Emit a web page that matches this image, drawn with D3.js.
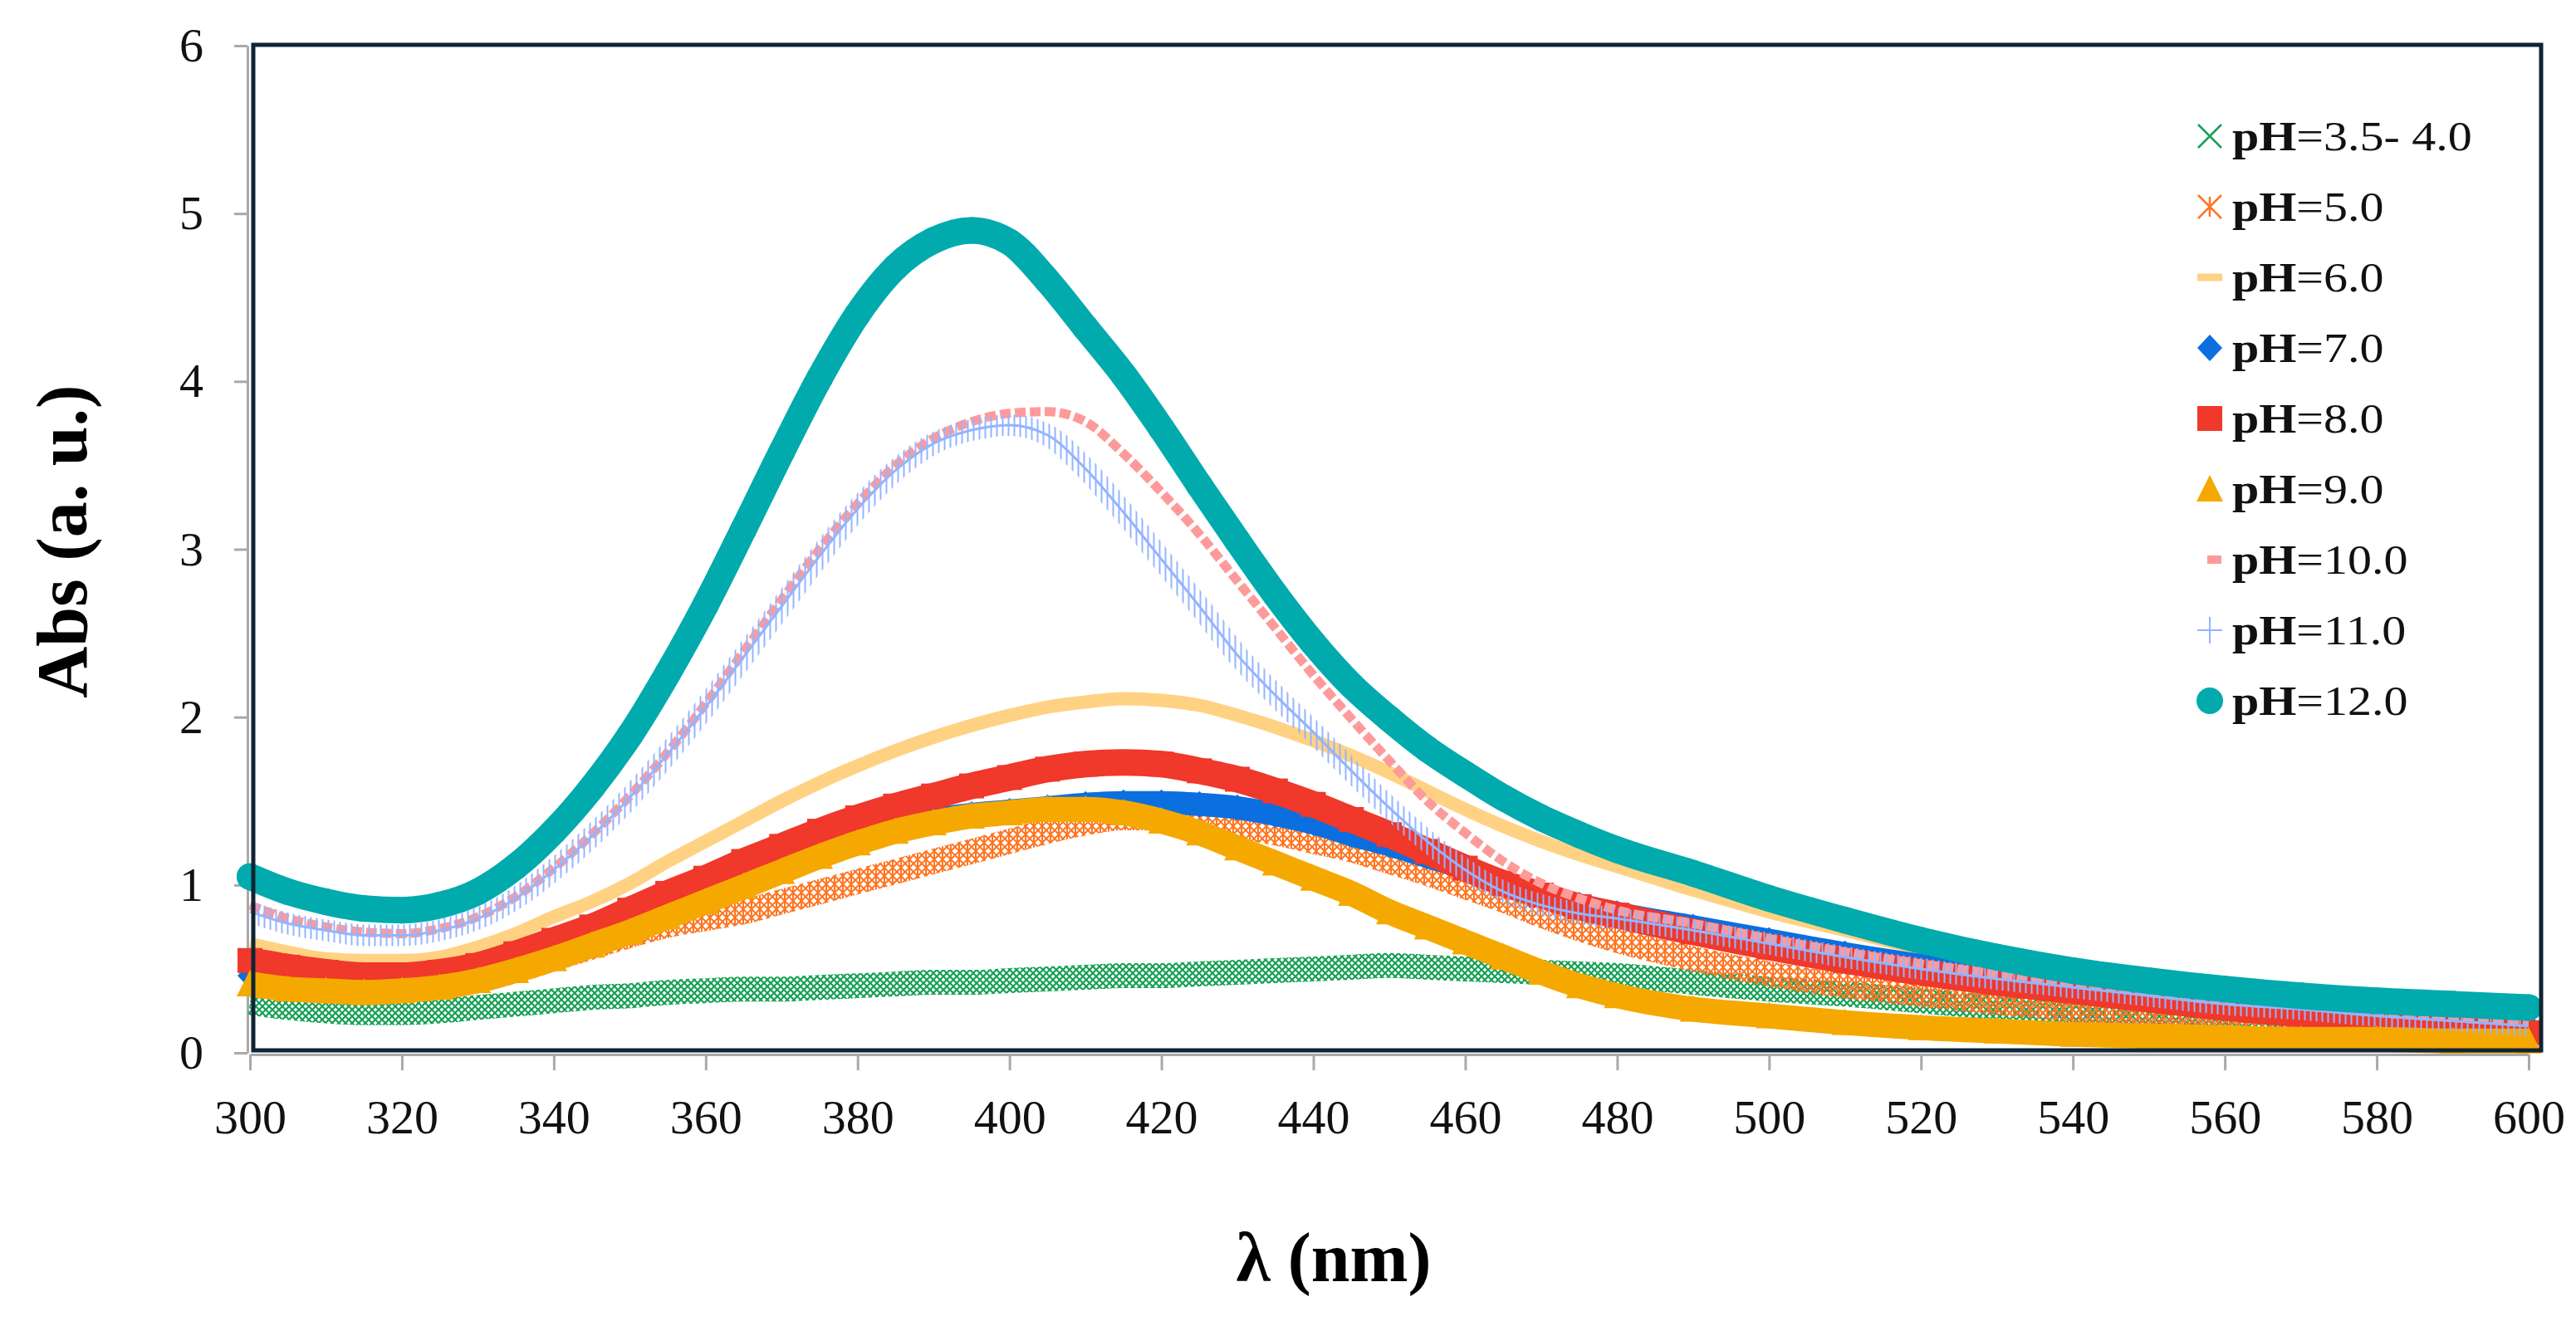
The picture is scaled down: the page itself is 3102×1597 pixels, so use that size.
<!DOCTYPE html>
<html>
<head>
<meta charset="utf-8">
<script src="https://cdn.jsdelivr.net/npm/d3@7"></script>
<style>
  body { margin: 0; background: #fff; }
</style>
</head>
<body>
<script>

// wavelength grid (nm)
var wavelengths = [300,305,310,315,320,325,330,335,340,345,
                   350,355,360,365,370,375,380,385,390,395,
                   400,405,410,415,420,425,430,435,440,445,
                   450,455,460,465,470,475,480,
                   490,500,510,520,530,540,550,560,570,580,590,600];

// absorbance
var absPH35 = [0.30,0.27,0.25,0.24,0.24,0.25,0.27,0.29,0.31,0.33,
               0.34,0.36,0.37,0.38,0.38,0.39,0.40,0.41,0.42,0.42,
               0.43,0.44,0.45,0.46,0.46,0.47,0.48,0.49,0.50,0.51,
               0.52,0.51,0.50,0.49,0.48,0.47,0.46,
               0.42,0.38,0.35,0.31,0.27,0.24,0.21,0.19,0.17,0.15,0.14,0.13];
var absPH5 = [0.41,0.38,0.37,0.36,0.37,0.39,0.43,0.49,0.56,0.63,
              0.70,0.76,0.80,0.84,0.90,0.96,1.02,1.08,1.14,1.20,
              1.26,1.32,1.37,1.40,1.40,1.38,1.35,1.31,1.26,1.21,
              1.14,1.07,0.99,0.91,0.82,0.74,0.67,
              0.56,0.47,0.40,0.35,0.30,0.26,0.23,0.20,0.18,0.16,0.14,0.12];
var absPH6 = [0.65,0.60,0.56,0.55,0.55,0.57,0.63,0.71,0.81,0.90,
              1.01,1.14,1.26,1.38,1.50,1.61,1.71,1.80,1.88,1.95,
              2.01,2.06,2.09,2.11,2.10,2.07,2.01,1.94,1.86,1.77,
              1.67,1.56,1.45,1.35,1.26,1.18,1.11,
              0.97,0.84,0.73,0.62,0.53,0.46,0.40,0.35,0.31,0.27,0.24,0.21];
var absPH7 = [0.46,0.43,0.42,0.41,0.42,0.44,0.48,0.54,0.61,0.69,
              0.77,0.86,0.95,1.04,1.13,1.21,1.28,1.34,1.39,1.42,
              1.44,1.46,1.48,1.49,1.49,1.48,1.46,1.42,1.37,1.30,
              1.24,1.17,1.10,1.01,0.94,0.88,0.83,
              0.75,0.67,0.59,0.52,0.46,0.40,0.35,0.30,0.26,0.22,0.19,0.16];
var absPH8 = [0.55,0.51,0.48,0.46,0.46,0.48,0.52,0.59,0.67,0.75,
              0.85,0.95,1.04,1.14,1.23,1.32,1.40,1.47,1.53,1.59,
              1.64,1.69,1.72,1.73,1.72,1.68,1.63,1.56,1.48,1.39,
              1.30,1.20,1.10,1.01,0.94,0.87,0.82,
              0.72,0.63,0.55,0.48,0.42,0.37,0.32,0.27,0.23,0.19,0.15,0.12];
var absPH9 = [0.41,0.38,0.37,0.36,0.37,0.39,0.43,0.49,0.56,0.64,
              0.72,0.81,0.90,0.99,1.08,1.17,1.25,1.32,1.37,1.41,
              1.43,1.45,1.45,1.43,1.38,1.31,1.22,1.13,1.04,0.95,
              0.84,0.75,0.66,0.57,0.48,0.40,0.34,
              0.26,0.22,0.18,0.15,0.13,0.11,0.10,0.09,0.08,0.08,0.07,0.07];
var absPH10 = [0.88,0.80,0.75,0.72,0.71,0.74,0.81,0.93,1.10,1.30,
               1.53,1.79,2.08,2.39,2.70,3.00,3.27,3.50,3.66,3.76,
               3.81,3.82,3.76,3.57,3.34,3.09,2.81,2.53,2.25,1.99,
               1.74,1.50,1.31,1.14,1.01,0.92,0.85,
               0.77,0.68,0.60,0.53,0.47,0.42,0.36,0.31,0.28,0.24,0.21,0.18];
var absPH11 = [0.84,0.77,0.73,0.70,0.70,0.73,0.80,0.92,1.09,1.29,
               1.52,1.78,2.06,2.36,2.66,2.96,3.24,3.47,3.63,3.71,
               3.74,3.68,3.48,3.22,2.94,2.66,2.37,2.13,1.91,1.68,
               1.46,1.26,1.09,0.96,0.88,0.83,0.80,
               0.73,0.65,0.57,0.50,0.44,0.39,0.34,0.29,0.26,0.22,0.19,0.16];
var absPH12 = [1.05,0.96,0.90,0.86,0.85,0.88,0.96,1.11,1.32,1.58,
               1.89,2.26,2.67,3.12,3.58,4.02,4.40,4.68,4.84,4.90,
               4.83,4.60,4.32,4.04,3.72,3.38,3.05,2.73,2.44,2.19,
               1.99,1.81,1.66,1.52,1.40,1.30,1.21,
               1.07,0.92,0.79,0.67,0.57,0.49,0.43,0.38,0.34,0.31,0.29,0.27];

var seriesNames = ["pH=3.5- 4.0","pH=5.0","pH=6.0","pH=7.0","pH=8.0","pH=9.0","pH=10.0","pH=11.0","pH=12.0"];
var xTicks = [300,320,340,360,380,400,420,440,460,480,500,520,540,560,580,600];
var yTicks = [0,1,2,3,4,5,6];

// look of each series (Excel-like markers)
var series = [
  {name: seriesNames[0], values: absPH35, color: "#16a055", marker: "x",         width: 30, fill: "url(#hatchX)"},
  {name: seriesNames[1], values: absPH5,  color: "#ff7420", marker: "asterisk",  width: 30, fill: "url(#hatchStar)"},
  {name: seriesNames[2], values: absPH6,  color: "#ffd283", marker: "dash",      width: 16},
  {name: seriesNames[3], values: absPH7,  color: "#0b6fe0", marker: "diamond",   width: 28, dots: true},
  {name: seriesNames[4], values: absPH8,  color: "#f0382b", marker: "square",    width: 32, dots: true},
  {name: seriesNames[5], values: absPH9,  color: "#f5a900", marker: "triangle",  width: 30, dots: true},
  {name: seriesNames[6], values: absPH10, color: "#ff9a9a", marker: "smalldash", width: 11, dash: "13,5"},
  {name: seriesNames[7], values: absPH11, color: "#94b4ff", marker: "plus",      width: 26, fill: "url(#hatchPlus)", core: 3},
  {name: seriesNames[8], values: absPH12, color: "#00aaad", marker: "circle",    width: 32, dots: true}
];

var W = 3102, H = 1597;
var svg = d3.select('body').append('svg')
  .attr('width', W).attr('height', H)
  .style('font-family', '"Liberation Serif", "Times New Roman", serif');

var x = d3.scaleLinear().domain([300, 600]).range([301, 3045]);
var y = d3.scaleLinear().domain([0, 6]).range([1268, 55]);

// marker fills for the hatched bands
var defs = svg.append('defs');
function hatch(id, size, d, color, sw) {
  defs.append('pattern').attr('id', id)
    .attr('patternUnits', 'userSpaceOnUse')
    .attr('width', size).attr('height', size)
    .append('path').attr('d', d)
    .attr('stroke', color).attr('stroke-width', sw).attr('fill', 'none');
}
hatch('hatchX', 8, 'M0,0L8,8M8,0L0,8', series[0].color, 2.2);
hatch('hatchStar', 10, 'M0,0L10,10M10,0L0,10M5,0L5,10', series[1].color, 2);
hatch('hatchPlus', 7, 'M3.5,0L3.5,7', series[7].color, 2);

// glyphs used in the legend and on the solid bands
function glyph(g, kind, color) {
  if (kind === 'x') {
    g.append('path').attr('d', 'M-14,-14L14,14M14,-14L-14,14')
      .attr('stroke', color).attr('stroke-width', 2.5).attr('fill', 'none');
  } else if (kind === 'asterisk') {
    g.append('path').attr('d', 'M-14,-14L14,14M14,-14L-14,14M0,-12L0,12')
      .attr('stroke', color).attr('stroke-width', 2.5).attr('fill', 'none');
  } else if (kind === 'dash') {
    g.append('rect').attr('x', -15).attr('y', -4.5).attr('width', 30).attr('height', 9).attr('fill', color);
  } else if (kind === 'diamond') {
    g.append('path').attr('d', 'M0,-16L15,0L0,16L-15,0Z').attr('fill', color);
  } else if (kind === 'square') {
    g.append('rect').attr('x', -15).attr('y', -15).attr('width', 30).attr('height', 30).attr('fill', color);
  } else if (kind === 'triangle') {
    g.append('path').attr('d', 'M0,-17L16,15L-16,15Z').attr('fill', color);
  } else if (kind === 'smalldash') {
    g.append('rect').attr('x', -3).attr('y', -5).attr('width', 17).attr('height', 10).attr('fill', color);
  } else if (kind === 'plus') {
    g.append('path').attr('d', 'M-15,0L15,0M0,-16L0,16')
      .attr('stroke', color).attr('stroke-width', 2).attr('fill', 'none');
  } else if (kind === 'circle') {
    g.append('circle').attr('r', 16).attr('fill', color);
  }
}

// gray axes under the frame
var axisColor = '#a9a9a9';
var xAxis = svg.append('g')
  .attr('transform', 'translate(0,1270)')
  .call(d3.axisBottom(x).tickValues(xTicks).tickSize(19).tickSizeOuter(0).tickPadding(35));
var yAxis = svg.append('g')
  .attr('transform', 'translate(298,0)')
  .call(d3.axisLeft(y).tickValues(yTicks).tickFormat(d3.format('d'))
    .tickSize(16).tickSizeOuter(0).tickPadding(37));
[xAxis, yAxis].forEach(function (a) {
  a.select('.domain').attr('stroke', axisColor).attr('stroke-width', 3);
  a.selectAll('.tick line').attr('stroke', axisColor).attr('stroke-width', 3);
  a.selectAll('.tick text').attr('font-size', 58).attr('fill', '#111')
    .attr('font-family', '"Liberation Serif", "Times New Roman", serif');
});

// bands
var line = d3.line()
  .x(function (d, i) { return x(wavelengths[i]); })
  .y(function (d) { return y(d); })
  .curve(d3.curveMonotoneX);

series.forEach(function (s) {
  var g = svg.append('g');
  g.append('path')
    .attr('d', line(s.values))
    .attr('fill', 'none')
    .attr('stroke', s.fill || s.color)
    .attr('stroke-width', s.width)
    .attr('stroke-linejoin', 'round')
    .attr('stroke-linecap', s.marker === 'circle' ? 'round' : 'butt')
    .attr('stroke-dasharray', s.dash || null);
  if (s.core) {
    g.append('path')
      .attr('d', line(s.values))
      .attr('fill', 'none')
      .attr('stroke', s.color)
      .attr('stroke-width', s.core);
  }
  if (s.dots) {
    s.values.forEach(function (v, i) {
      var m = g.append('g').attr('transform', 'translate(' + x(wavelengths[i]) + ',' + y(v) + ')');
      glyph(m, s.marker, s.color);
    });
  }
});

// plot frame drawn over the data
svg.append('rect')
  .attr('x', 305).attr('y', 54)
  .attr('width', 2755).attr('height', 1211)
  .attr('fill', 'none')
  .attr('stroke', '#0f2434')
  .attr('stroke-width', 5);

// legend
series.forEach(function (s, i) {
  var cy = 164 + i * 85;
  var g = svg.append('g').attr('transform', 'translate(2661,' + cy + ')');
  glyph(g, s.marker, s.color);
  var t = svg.append('text')
    .attr('transform', 'translate(2688,' + (cy + 17) + ') scale(1.16,1)')
    .attr('font-size', 50)
    .attr('fill', '#111');
  t.append('tspan').attr('font-weight', 'bold').text(s.name.slice(0, 2));
  t.append('tspan').text(s.name.slice(2));
});

// axis titles
svg.append('text')
  .attr('x', 1606).attr('y', 1543)
  .attr('text-anchor', 'middle')
  .attr('font-size', 84).attr('font-weight', 'bold')
  .text('λ (nm)');
svg.append('text')
  .attr('transform', 'translate(104,652) rotate(-90)')
  .attr('text-anchor', 'middle')
  .attr('font-size', 86).attr('font-weight', 'bold')
  .text('Abs (a. u.)');

</script>
</body>
</html>
